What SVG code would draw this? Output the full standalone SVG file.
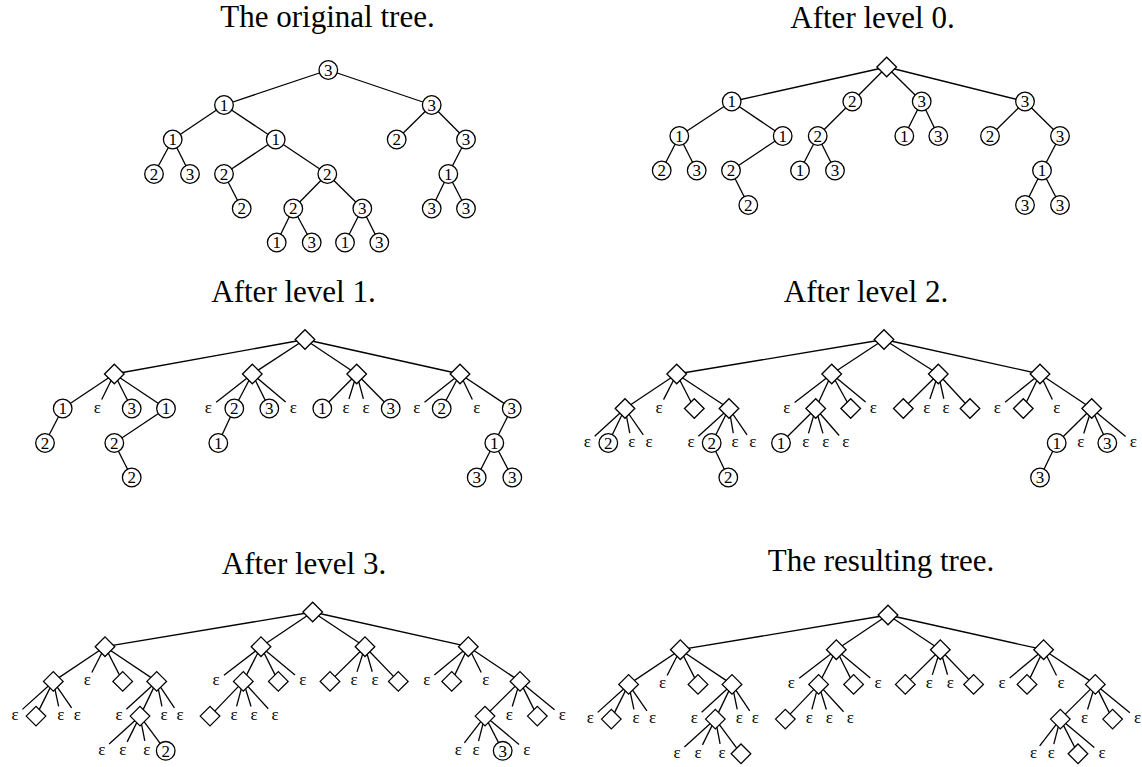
<svg xmlns="http://www.w3.org/2000/svg" xmlns:xlink="http://www.w3.org/1999/xlink" width="1142" height="767" viewBox="0 0 1142 767">
<defs>
<style>
.e line{stroke:#000;stroke-width:1.3;fill:none}
.c{fill:#fff;stroke:#000;stroke-width:1.3}
.d{fill:#fff;stroke:#000;stroke-width:1.3}
text{font-family:"Liberation Serif","Times New Roman",serif;fill:#000}
.t{font-size:31px;text-anchor:middle}
.l{font-size:17px;text-anchor:middle}
</style>
<path id="dm" d="M-9.8 0L0-9.8L9.8 0L0 9.8Z"/>
</defs>
<rect width="1142" height="767" fill="#fff"/>

<!-- Panel 1 -->
<text class="t" x="327.5" y="27">The original tree.</text>
<g id="p1-edges" class="e">
<line x1="328.3" y1="70" x2="224" y2="105"/>
<line x1="328.3" y1="70" x2="431.7" y2="105"/>
<line x1="224" y1="105" x2="172.7" y2="139.5"/>
<line x1="224" y1="105" x2="275.7" y2="139.5"/>
<line x1="172.7" y1="139.5" x2="154" y2="174"/>
<line x1="172.7" y1="139.5" x2="190" y2="174"/>
<line x1="275.7" y1="139.5" x2="224" y2="174"/>
<line x1="275.7" y1="139.5" x2="327.3" y2="174"/>
<line x1="224" y1="174" x2="241.7" y2="208.5"/>
<line x1="327.3" y1="174" x2="293.3" y2="208.5"/>
<line x1="327.3" y1="174" x2="362.3" y2="208.5"/>
<line x1="293.3" y1="208.5" x2="276.7" y2="242.5"/>
<line x1="293.3" y1="208.5" x2="311.7" y2="242.5"/>
<line x1="362.3" y1="208.5" x2="345" y2="242.5"/>
<line x1="362.3" y1="208.5" x2="379.3" y2="242.5"/>
<line x1="431.7" y1="105" x2="396.7" y2="139.5"/>
<line x1="431.7" y1="105" x2="466" y2="139.5"/>
<line x1="466" y1="139.5" x2="448.3" y2="174"/>
<line x1="448.3" y1="174" x2="431.7" y2="208.5"/>
<line x1="448.3" y1="174" x2="466" y2="208.5"/>
</g>
<g id="p1-n0"><circle class="c" cx="328.3" cy="70" r="9.3"/><text class="l" x="328.3" y="75.8">3</text></g>
<g id="p1-n1"><circle class="c" cx="224" cy="105" r="9.3"/><text class="l" x="224" y="110.8">1</text></g>
<g id="p1-n2"><circle class="c" cx="431.7" cy="105" r="9.3"/><text class="l" x="431.7" y="110.8">3</text></g>
<g id="p1-n3"><circle class="c" cx="172.7" cy="139.5" r="9.3"/><text class="l" x="172.7" y="145.3">1</text></g>
<g id="p1-n4"><circle class="c" cx="275.7" cy="139.5" r="9.3"/><text class="l" x="275.7" y="145.3">1</text></g>
<g id="p1-n5"><circle class="c" cx="396.7" cy="139.5" r="9.3"/><text class="l" x="396.7" y="145.3">2</text></g>
<g id="p1-n6"><circle class="c" cx="466" cy="139.5" r="9.3"/><text class="l" x="466" y="145.3">3</text></g>
<g id="p1-n7"><circle class="c" cx="154" cy="174" r="9.3"/><text class="l" x="154" y="179.8">2</text></g>
<g id="p1-n8"><circle class="c" cx="190" cy="174" r="9.3"/><text class="l" x="190" y="179.8">3</text></g>
<g id="p1-n9"><circle class="c" cx="224" cy="174" r="9.3"/><text class="l" x="224" y="179.8">2</text></g>
<g id="p1-n10"><circle class="c" cx="327.3" cy="174" r="9.3"/><text class="l" x="327.3" y="179.8">2</text></g>
<g id="p1-n11"><circle class="c" cx="448.3" cy="174" r="9.3"/><text class="l" x="448.3" y="179.8">1</text></g>
<g id="p1-n12"><circle class="c" cx="241.7" cy="208.5" r="9.3"/><text class="l" x="241.7" y="214.3">2</text></g>
<g id="p1-n13"><circle class="c" cx="293.3" cy="208.5" r="9.3"/><text class="l" x="293.3" y="214.3">2</text></g>
<g id="p1-n14"><circle class="c" cx="362.3" cy="208.5" r="9.3"/><text class="l" x="362.3" y="214.3">3</text></g>
<g id="p1-n15"><circle class="c" cx="431.7" cy="208.5" r="9.3"/><text class="l" x="431.7" y="214.3">3</text></g>
<g id="p1-n16"><circle class="c" cx="466" cy="208.5" r="9.3"/><text class="l" x="466" y="214.3">3</text></g>
<g id="p1-n17"><circle class="c" cx="276.7" cy="242.5" r="9.3"/><text class="l" x="276.7" y="248.3">1</text></g>
<g id="p1-n18"><circle class="c" cx="311.7" cy="242.5" r="9.3"/><text class="l" x="311.7" y="248.3">3</text></g>
<g id="p1-n19"><circle class="c" cx="345" cy="242.5" r="9.3"/><text class="l" x="345" y="248.3">1</text></g>
<g id="p1-n20"><circle class="c" cx="379.3" cy="242.5" r="9.3"/><text class="l" x="379.3" y="248.3">3</text></g>

<!-- Panel 2 -->
<text class="t" x="872.5" y="28">After level 0.</text>
<g id="p2-edges" class="e">
<line x1="886.7" y1="67" x2="731.7" y2="101.5"/>
<line x1="886.7" y1="67" x2="852.3" y2="101.5"/>
<line x1="886.7" y1="67" x2="921.7" y2="101.5"/>
<line x1="886.7" y1="67" x2="1025" y2="101.5"/>
<line x1="731.7" y1="101.5" x2="679.3" y2="136"/>
<line x1="731.7" y1="101.5" x2="782.7" y2="136"/>
<line x1="679.3" y1="136" x2="661.7" y2="170.5"/>
<line x1="679.3" y1="136" x2="696.7" y2="170.5"/>
<line x1="782.7" y1="136" x2="731" y2="170.5"/>
<line x1="731" y1="170.5" x2="748.3" y2="205"/>
<line x1="852.3" y1="101.5" x2="817.7" y2="136"/>
<line x1="817.7" y1="136" x2="800" y2="170.5"/>
<line x1="817.7" y1="136" x2="835" y2="170.5"/>
<line x1="921.7" y1="101.5" x2="904.3" y2="136"/>
<line x1="921.7" y1="101.5" x2="938.3" y2="136"/>
<line x1="1025" y1="101.5" x2="990" y2="136"/>
<line x1="1025" y1="101.5" x2="1060" y2="136"/>
<line x1="1060" y1="136" x2="1042" y2="170.5"/>
<line x1="1042" y1="170.5" x2="1025" y2="205"/>
<line x1="1042" y1="170.5" x2="1060" y2="205"/>
</g>
<g id="p2-n0"><use href="#dm" class="d" x="886.7" y="67"/></g>
<g id="p2-n1"><circle class="c" cx="731.7" cy="101.5" r="9.3"/><text class="l" x="731.7" y="107.3">1</text></g>
<g id="p2-n2"><circle class="c" cx="852.3" cy="101.5" r="9.3"/><text class="l" x="852.3" y="107.3">2</text></g>
<g id="p2-n3"><circle class="c" cx="921.7" cy="101.5" r="9.3"/><text class="l" x="921.7" y="107.3">3</text></g>
<g id="p2-n4"><circle class="c" cx="1025" cy="101.5" r="9.3"/><text class="l" x="1025" y="107.3">3</text></g>
<g id="p2-n5"><circle class="c" cx="679.3" cy="136" r="9.3"/><text class="l" x="679.3" y="141.8">1</text></g>
<g id="p2-n6"><circle class="c" cx="782.7" cy="136" r="9.3"/><text class="l" x="782.7" y="141.8">1</text></g>
<g id="p2-n7"><circle class="c" cx="817.7" cy="136" r="9.3"/><text class="l" x="817.7" y="141.8">2</text></g>
<g id="p2-n8"><circle class="c" cx="904.3" cy="136" r="9.3"/><text class="l" x="904.3" y="141.8">1</text></g>
<g id="p2-n9"><circle class="c" cx="938.3" cy="136" r="9.3"/><text class="l" x="938.3" y="141.8">3</text></g>
<g id="p2-n10"><circle class="c" cx="990" cy="136" r="9.3"/><text class="l" x="990" y="141.8">2</text></g>
<g id="p2-n11"><circle class="c" cx="1060" cy="136" r="9.3"/><text class="l" x="1060" y="141.8">3</text></g>
<g id="p2-n12"><circle class="c" cx="661.7" cy="170.5" r="9.3"/><text class="l" x="661.7" y="176.3">2</text></g>
<g id="p2-n13"><circle class="c" cx="696.7" cy="170.5" r="9.3"/><text class="l" x="696.7" y="176.3">3</text></g>
<g id="p2-n14"><circle class="c" cx="731" cy="170.5" r="9.3"/><text class="l" x="731" y="176.3">2</text></g>
<g id="p2-n15"><circle class="c" cx="800" cy="170.5" r="9.3"/><text class="l" x="800" y="176.3">1</text></g>
<g id="p2-n16"><circle class="c" cx="835" cy="170.5" r="9.3"/><text class="l" x="835" y="176.3">3</text></g>
<g id="p2-n17"><circle class="c" cx="1042" cy="170.5" r="9.3"/><text class="l" x="1042" y="176.3">1</text></g>
<g id="p2-n18"><circle class="c" cx="748.3" cy="205" r="9.3"/><text class="l" x="748.3" y="210.8">2</text></g>
<g id="p2-n19"><circle class="c" cx="1025" cy="205" r="9.3"/><text class="l" x="1025" y="210.8">3</text></g>
<g id="p2-n20"><circle class="c" cx="1060" cy="205" r="9.3"/><text class="l" x="1060" y="210.8">3</text></g>

<!-- Panel 3 -->
<text class="t" x="293.5" y="301.7">After level 1.</text>
<g id="p3-edges" class="e">
<line x1="305" y1="339.5" x2="114.3" y2="374"/>
<line x1="305" y1="339.5" x2="252.3" y2="374"/>
<line x1="305" y1="339.5" x2="356.7" y2="374"/>
<line x1="305" y1="339.5" x2="460" y2="374"/>
<line x1="114.3" y1="374" x2="62.7" y2="408.5"/>
<line x1="114.3" y1="374" x2="101.72" y2="399.53"/>
<line x1="114.3" y1="374" x2="131.7" y2="408.5"/>
<line x1="114.3" y1="374" x2="166" y2="408.5"/>
<line x1="62.7" y1="408.5" x2="45" y2="443"/>
<line x1="166" y1="408.5" x2="114.3" y2="443"/>
<line x1="114.3" y1="443" x2="131.7" y2="477.5"/>
<line x1="252.3" y1="374" x2="216.17" y2="402.33"/>
<line x1="252.3" y1="374" x2="234.3" y2="408.5"/>
<line x1="252.3" y1="374" x2="269.3" y2="408.5"/>
<line x1="252.3" y1="374" x2="285.65" y2="402.06"/>
<line x1="234.3" y1="408.5" x2="218.3" y2="443"/>
<line x1="356.7" y1="374" x2="322.3" y2="408.5"/>
<line x1="356.7" y1="374" x2="348.96" y2="398.95"/>
<line x1="356.7" y1="374" x2="363.4" y2="398.84"/>
<line x1="356.7" y1="374" x2="390.7" y2="408.5"/>
<line x1="460" y1="374" x2="424.52" y2="402.27"/>
<line x1="460" y1="374" x2="441.7" y2="408.5"/>
<line x1="460" y1="374" x2="472.34" y2="399.5"/>
<line x1="460" y1="374" x2="511.7" y2="408.5"/>
<line x1="511.7" y1="408.5" x2="494.3" y2="443"/>
<line x1="494.3" y1="443" x2="476.7" y2="477.5"/>
<line x1="494.3" y1="443" x2="512.3" y2="477.5"/>
</g>
<g id="p3-n0"><use href="#dm" class="d" x="305" y="339.5"/></g>
<g id="p3-n1"><use href="#dm" class="d" x="114.3" y="374"/></g>
<g id="p3-n2"><use href="#dm" class="d" x="252.3" y="374"/></g>
<g id="p3-n3"><use href="#dm" class="d" x="356.7" y="374"/></g>
<g id="p3-n4"><use href="#dm" class="d" x="460" y="374"/></g>
<g id="p3-n5"><circle class="c" cx="62.7" cy="408.5" r="9.3"/><text class="l" x="62.7" y="414.3">1</text></g>
<g id="p3-n6"><text class="l" x="97.3" y="412.5">ε</text></g>
<g id="p3-n7"><circle class="c" cx="131.7" cy="408.5" r="9.3"/><text class="l" x="131.7" y="414.3">3</text></g>
<g id="p3-n8"><circle class="c" cx="166" cy="408.5" r="9.3"/><text class="l" x="166" y="414.3">1</text></g>
<g id="p3-n9"><text class="l" x="208.3" y="412.5">ε</text></g>
<g id="p3-n10"><circle class="c" cx="234.3" cy="408.5" r="9.3"/><text class="l" x="234.3" y="414.3">2</text></g>
<g id="p3-n11"><circle class="c" cx="269.3" cy="408.5" r="9.3"/><text class="l" x="269.3" y="414.3">3</text></g>
<g id="p3-n12"><text class="l" x="293.3" y="412.5">ε</text></g>
<g id="p3-n13"><circle class="c" cx="322.3" cy="408.5" r="9.3"/><text class="l" x="322.3" y="414.3">1</text></g>
<g id="p3-n14"><text class="l" x="346" y="412.5">ε</text></g>
<g id="p3-n15"><text class="l" x="366" y="412.5">ε</text></g>
<g id="p3-n16"><circle class="c" cx="390.7" cy="408.5" r="9.3"/><text class="l" x="390.7" y="414.3">3</text></g>
<g id="p3-n17"><text class="l" x="416.7" y="412.5">ε</text></g>
<g id="p3-n18"><circle class="c" cx="441.7" cy="408.5" r="9.3"/><text class="l" x="441.7" y="414.3">2</text></g>
<g id="p3-n19"><text class="l" x="476.7" y="412.5">ε</text></g>
<g id="p3-n20"><circle class="c" cx="511.7" cy="408.5" r="9.3"/><text class="l" x="511.7" y="414.3">3</text></g>
<g id="p3-n21"><circle class="c" cx="45" cy="443" r="9.3"/><text class="l" x="45" y="448.8">2</text></g>
<g id="p3-n22"><circle class="c" cx="114.3" cy="443" r="9.3"/><text class="l" x="114.3" y="448.8">2</text></g>
<g id="p3-n23"><circle class="c" cx="218.3" cy="443" r="9.3"/><text class="l" x="218.3" y="448.8">1</text></g>
<g id="p3-n24"><circle class="c" cx="494.3" cy="443" r="9.3"/><text class="l" x="494.3" y="448.8">1</text></g>
<g id="p3-n25"><circle class="c" cx="131.7" cy="477.5" r="9.3"/><text class="l" x="131.7" y="483.3">2</text></g>
<g id="p3-n26"><circle class="c" cx="476.7" cy="477.5" r="9.3"/><text class="l" x="476.7" y="483.3">3</text></g>
<g id="p3-n27"><circle class="c" cx="512.3" cy="477.5" r="9.3"/><text class="l" x="512.3" y="483.3">3</text></g>

<!-- Panel 4 -->
<text class="t" x="866" y="301.7">After level 2.</text>
<g id="p4-edges" class="e">
<line x1="884" y1="339.5" x2="676.7" y2="374"/>
<line x1="884" y1="339.5" x2="831.7" y2="374"/>
<line x1="884" y1="339.5" x2="938.3" y2="374"/>
<line x1="884" y1="339.5" x2="1040" y2="374"/>
<line x1="676.7" y1="374" x2="625" y2="408.5"/>
<line x1="676.7" y1="374" x2="663.56" y2="399.6"/>
<line x1="676.7" y1="374" x2="694.3" y2="408.5"/>
<line x1="676.7" y1="374" x2="729" y2="408.5"/>
<line x1="625" y1="408.5" x2="594.68" y2="436.25"/>
<line x1="625" y1="408.5" x2="608.3" y2="443"/>
<line x1="625" y1="408.5" x2="629.79" y2="433.18"/>
<line x1="625" y1="408.5" x2="643.29" y2="434.79"/>
<line x1="729" y1="408.5" x2="698.4" y2="436.28"/>
<line x1="729" y1="408.5" x2="711.7" y2="443"/>
<line x1="729" y1="408.5" x2="733.29" y2="433.15"/>
<line x1="729" y1="408.5" x2="747.04" y2="434.76"/>
<line x1="711.7" y1="443" x2="728.3" y2="477.5"/>
<line x1="831.7" y1="374" x2="794.64" y2="402.42"/>
<line x1="831.7" y1="374" x2="815.7" y2="408.5"/>
<line x1="831.7" y1="374" x2="850.7" y2="408.5"/>
<line x1="831.7" y1="374" x2="865.6" y2="402.12"/>
<line x1="815.7" y1="408.5" x2="781" y2="443"/>
<line x1="815.7" y1="408.5" x2="808.48" y2="433.4"/>
<line x1="815.7" y1="408.5" x2="822.92" y2="433.4"/>
<line x1="815.7" y1="408.5" x2="839.14" y2="435.45"/>
<line x1="938.3" y1="374" x2="903.3" y2="408.5"/>
<line x1="938.3" y1="374" x2="929.89" y2="399.02"/>
<line x1="938.3" y1="374" x2="943.82" y2="398.74"/>
<line x1="938.3" y1="374" x2="970" y2="408.5"/>
<line x1="1040" y1="374" x2="1005.08" y2="402.22"/>
<line x1="1040" y1="374" x2="1023.3" y2="408.5"/>
<line x1="1040" y1="374" x2="1052.34" y2="399.5"/>
<line x1="1040" y1="374" x2="1091.7" y2="408.5"/>
<line x1="1091.7" y1="408.5" x2="1056.7" y2="443"/>
<line x1="1091.7" y1="408.5" x2="1083.74" y2="433.47"/>
<line x1="1091.7" y1="408.5" x2="1107.3" y2="443"/>
<line x1="1091.7" y1="408.5" x2="1125.6" y2="436.62"/>
<line x1="1056.7" y1="443" x2="1040" y2="477.5"/>
</g>
<g id="p4-n0"><use href="#dm" class="d" x="884" y="339.5"/></g>
<g id="p4-n1"><use href="#dm" class="d" x="676.7" y="374"/></g>
<g id="p4-n2"><use href="#dm" class="d" x="831.7" y="374"/></g>
<g id="p4-n3"><use href="#dm" class="d" x="938.3" y="374"/></g>
<g id="p4-n4"><use href="#dm" class="d" x="1040" y="374"/></g>
<g id="p4-n5"><use href="#dm" class="d" x="625" y="408.5"/></g>
<g id="p4-n6"><text class="l" x="659" y="412.5">ε</text></g>
<g id="p4-n7"><use href="#dm" class="d" x="694.3" y="408.5"/></g>
<g id="p4-n8"><use href="#dm" class="d" x="729" y="408.5"/></g>
<g id="p4-n9"><text class="l" x="786.7" y="412.5">ε</text></g>
<g id="p4-n10"><use href="#dm" class="d" x="815.7" y="408.5"/></g>
<g id="p4-n11"><use href="#dm" class="d" x="850.7" y="408.5"/></g>
<g id="p4-n12"><text class="l" x="873.3" y="412.5">ε</text></g>
<g id="p4-n13"><use href="#dm" class="d" x="903.3" y="408.5"/></g>
<g id="p4-n14"><text class="l" x="926.7" y="412.5">ε</text></g>
<g id="p4-n15"><text class="l" x="946" y="412.5">ε</text></g>
<g id="p4-n16"><use href="#dm" class="d" x="970" y="408.5"/></g>
<g id="p4-n17"><text class="l" x="997.3" y="412.5">ε</text></g>
<g id="p4-n18"><use href="#dm" class="d" x="1023.3" y="408.5"/></g>
<g id="p4-n19"><text class="l" x="1056.7" y="412.5">ε</text></g>
<g id="p4-n20"><use href="#dm" class="d" x="1091.7" y="408.5"/></g>
<g id="p4-n21"><text class="l" x="587.3" y="447">ε</text></g>
<g id="p4-n22"><circle class="c" cx="608.3" cy="443" r="9.3"/><text class="l" x="608.3" y="448.8">2</text></g>
<g id="p4-n23"><text class="l" x="631.7" y="447">ε</text></g>
<g id="p4-n24"><text class="l" x="649" y="447">ε</text></g>
<g id="p4-n25"><text class="l" x="691" y="447">ε</text></g>
<g id="p4-n26"><circle class="c" cx="711.7" cy="443" r="9.3"/><text class="l" x="711.7" y="448.8">2</text></g>
<g id="p4-n27"><text class="l" x="735" y="447">ε</text></g>
<g id="p4-n28"><text class="l" x="752.7" y="447">ε</text></g>
<g id="p4-n29"><circle class="c" cx="781" cy="443" r="9.3"/><text class="l" x="781" y="448.8">1</text></g>
<g id="p4-n30"><text class="l" x="805.7" y="447">ε</text></g>
<g id="p4-n31"><text class="l" x="825.7" y="447">ε</text></g>
<g id="p4-n32"><text class="l" x="845.7" y="447">ε</text></g>
<g id="p4-n33"><circle class="c" cx="1056.7" cy="443" r="9.3"/><text class="l" x="1056.7" y="448.8">1</text></g>
<g id="p4-n34"><text class="l" x="1080.7" y="447">ε</text></g>
<g id="p4-n35"><circle class="c" cx="1107.3" cy="443" r="9.3"/><text class="l" x="1107.3" y="448.8">3</text></g>
<g id="p4-n36"><text class="l" x="1133.3" y="447">ε</text></g>
<g id="p4-n37"><circle class="c" cx="728.3" cy="477.5" r="9.3"/><text class="l" x="728.3" y="483.3">2</text></g>
<g id="p4-n38"><circle class="c" cx="1040" cy="477.5" r="9.3"/><text class="l" x="1040" y="483.3">3</text></g>

<!-- Panel 5 -->
<text class="t" x="304" y="574.3">After level 3.</text>
<g id="p5-edges" class="e">
<line x1="312.7" y1="612" x2="105" y2="646.7"/>
<line x1="312.7" y1="612" x2="261" y2="646.7"/>
<line x1="312.7" y1="612" x2="365" y2="646.7"/>
<line x1="312.7" y1="612" x2="468.3" y2="646.7"/>
<line x1="105" y1="646.7" x2="53.3" y2="681.4"/>
<line x1="105" y1="646.7" x2="91.84" y2="672.49"/>
<line x1="105" y1="646.7" x2="122.7" y2="681.4"/>
<line x1="105" y1="646.7" x2="156.7" y2="681.4"/>
<line x1="53.3" y1="681.4" x2="22.41" y2="709.39"/>
<line x1="53.3" y1="681.4" x2="36" y2="716.1"/>
<line x1="53.3" y1="681.4" x2="58.61" y2="706.32"/>
<line x1="53.3" y1="681.4" x2="71.61" y2="707.88"/>
<line x1="156.7" y1="681.4" x2="126.36" y2="709.33"/>
<line x1="156.7" y1="681.4" x2="140" y2="716.1"/>
<line x1="156.7" y1="681.4" x2="161.94" y2="706.31"/>
<line x1="156.7" y1="681.4" x2="174.43" y2="707.8"/>
<line x1="140" y1="716.1" x2="109.11" y2="744.09"/>
<line x1="140" y1="716.1" x2="127.16" y2="741.85"/>
<line x1="140" y1="716.1" x2="144.8" y2="740.98"/>
<line x1="140" y1="716.1" x2="165.7" y2="750.8"/>
<line x1="261" y1="646.7" x2="223.92" y2="675.29"/>
<line x1="261" y1="646.7" x2="243.3" y2="681.4"/>
<line x1="261" y1="646.7" x2="278.3" y2="681.4"/>
<line x1="261" y1="646.7" x2="295.01" y2="675"/>
<line x1="243.3" y1="681.4" x2="210" y2="716.1"/>
<line x1="243.3" y1="681.4" x2="236.59" y2="706.44"/>
<line x1="243.3" y1="681.4" x2="251.05" y2="706.54"/>
<line x1="243.3" y1="681.4" x2="268.26" y2="708.72"/>
<line x1="365" y1="646.7" x2="330" y2="681.4"/>
<line x1="365" y1="646.7" x2="357.02" y2="671.87"/>
<line x1="365" y1="646.7" x2="372.23" y2="671.79"/>
<line x1="365" y1="646.7" x2="398.3" y2="681.4"/>
<line x1="468.3" y1="646.7" x2="434.38" y2="674.99"/>
<line x1="468.3" y1="646.7" x2="451.7" y2="681.4"/>
<line x1="468.3" y1="646.7" x2="481.22" y2="672.46"/>
<line x1="468.3" y1="646.7" x2="520" y2="681.4"/>
<line x1="520" y1="681.4" x2="485" y2="716.1"/>
<line x1="520" y1="681.4" x2="512.25" y2="706.54"/>
<line x1="520" y1="681.4" x2="537.3" y2="716.1"/>
<line x1="520" y1="681.4" x2="554.57" y2="709.76"/>
<line x1="485" y1="716.1" x2="464.4" y2="742.87"/>
<line x1="485" y1="716.1" x2="478.51" y2="741.12"/>
<line x1="485" y1="716.1" x2="502.7" y2="750.8"/>
<line x1="485" y1="716.1" x2="519.01" y2="744.4"/>
</g>
<g id="p5-n0"><use href="#dm" class="d" x="312.7" y="612"/></g>
<g id="p5-n1"><use href="#dm" class="d" x="105" y="646.7"/></g>
<g id="p5-n2"><use href="#dm" class="d" x="261" y="646.7"/></g>
<g id="p5-n3"><use href="#dm" class="d" x="365" y="646.7"/></g>
<g id="p5-n4"><use href="#dm" class="d" x="468.3" y="646.7"/></g>
<g id="p5-n5"><use href="#dm" class="d" x="53.3" y="681.4"/></g>
<g id="p5-n6"><text class="l" x="87.3" y="685.4">ε</text></g>
<g id="p5-n7"><use href="#dm" class="d" x="122.7" y="681.4"/></g>
<g id="p5-n8"><use href="#dm" class="d" x="156.7" y="681.4"/></g>
<g id="p5-n9"><text class="l" x="216" y="685.4">ε</text></g>
<g id="p5-n10"><use href="#dm" class="d" x="243.3" y="681.4"/></g>
<g id="p5-n11"><use href="#dm" class="d" x="278.3" y="681.4"/></g>
<g id="p5-n12"><text class="l" x="302.7" y="685.4">ε</text></g>
<g id="p5-n13"><use href="#dm" class="d" x="330" y="681.4"/></g>
<g id="p5-n14"><text class="l" x="354" y="685.4">ε</text></g>
<g id="p5-n15"><text class="l" x="375" y="685.4">ε</text></g>
<g id="p5-n16"><use href="#dm" class="d" x="398.3" y="681.4"/></g>
<g id="p5-n17"><text class="l" x="426.7" y="685.4">ε</text></g>
<g id="p5-n18"><use href="#dm" class="d" x="451.7" y="681.4"/></g>
<g id="p5-n19"><text class="l" x="485.7" y="685.4">ε</text></g>
<g id="p5-n20"><use href="#dm" class="d" x="520" y="681.4"/></g>
<g id="p5-n21"><text class="l" x="15" y="720.1">ε</text></g>
<g id="p5-n22"><use href="#dm" class="d" x="36" y="716.1"/></g>
<g id="p5-n23"><text class="l" x="60.7" y="720.1">ε</text></g>
<g id="p5-n24"><text class="l" x="77.3" y="720.1">ε</text></g>
<g id="p5-n25"><text class="l" x="119" y="720.1">ε</text></g>
<g id="p5-n26"><use href="#dm" class="d" x="140" y="716.1"/></g>
<g id="p5-n27"><text class="l" x="164" y="720.1">ε</text></g>
<g id="p5-n28"><text class="l" x="180" y="720.1">ε</text></g>
<g id="p5-n29"><use href="#dm" class="d" x="210" y="716.1"/></g>
<g id="p5-n30"><text class="l" x="234" y="720.1">ε</text></g>
<g id="p5-n31"><text class="l" x="254" y="720.1">ε</text></g>
<g id="p5-n32"><text class="l" x="275" y="720.1">ε</text></g>
<g id="p5-n33"><use href="#dm" class="d" x="485" y="716.1"/></g>
<g id="p5-n34"><text class="l" x="509.3" y="720.1">ε</text></g>
<g id="p5-n35"><use href="#dm" class="d" x="537.3" y="716.1"/></g>
<g id="p5-n36"><text class="l" x="562.3" y="720.1">ε</text></g>
<g id="p5-n37"><text class="l" x="101.7" y="754.8">ε</text></g>
<g id="p5-n38"><text class="l" x="122.7" y="754.8">ε</text></g>
<g id="p5-n39"><text class="l" x="146.7" y="754.8">ε</text></g>
<g id="p5-n40"><circle class="c" cx="165.7" cy="750.8" r="9.3"/><text class="l" x="165.7" y="756.6">2</text></g>
<g id="p5-n41"><text class="l" x="458.3" y="754.8">ε</text></g>
<g id="p5-n42"><text class="l" x="476" y="754.8">ε</text></g>
<g id="p5-n43"><circle class="c" cx="502.7" cy="750.8" r="9.3"/><text class="l" x="502.7" y="756.6">3</text></g>
<g id="p5-n44"><text class="l" x="526.7" y="754.8">ε</text></g>

<!-- Panel 6 -->
<text class="t" x="881" y="571">The resulting tree.</text>
<g transform="translate(575.3 3)">
<g id="p6-edges" class="e">
<line x1="312.7" y1="612" x2="105" y2="646.7"/>
<line x1="312.7" y1="612" x2="261" y2="646.7"/>
<line x1="312.7" y1="612" x2="365" y2="646.7"/>
<line x1="312.7" y1="612" x2="468.3" y2="646.7"/>
<line x1="105" y1="646.7" x2="53.3" y2="681.4"/>
<line x1="105" y1="646.7" x2="91.84" y2="672.49"/>
<line x1="105" y1="646.7" x2="122.7" y2="681.4"/>
<line x1="105" y1="646.7" x2="156.7" y2="681.4"/>
<line x1="53.3" y1="681.4" x2="22.41" y2="709.39"/>
<line x1="53.3" y1="681.4" x2="36" y2="716.1"/>
<line x1="53.3" y1="681.4" x2="58.61" y2="706.32"/>
<line x1="53.3" y1="681.4" x2="71.61" y2="707.88"/>
<line x1="156.7" y1="681.4" x2="126.36" y2="709.33"/>
<line x1="156.7" y1="681.4" x2="140" y2="716.1"/>
<line x1="156.7" y1="681.4" x2="161.94" y2="706.31"/>
<line x1="156.7" y1="681.4" x2="174.43" y2="707.8"/>
<line x1="140" y1="716.1" x2="109.11" y2="744.09"/>
<line x1="140" y1="716.1" x2="127.16" y2="741.85"/>
<line x1="140" y1="716.1" x2="144.8" y2="740.98"/>
<line x1="140" y1="716.1" x2="165.7" y2="750.8"/>
<line x1="261" y1="646.7" x2="223.92" y2="675.29"/>
<line x1="261" y1="646.7" x2="243.3" y2="681.4"/>
<line x1="261" y1="646.7" x2="278.3" y2="681.4"/>
<line x1="261" y1="646.7" x2="295.01" y2="675"/>
<line x1="243.3" y1="681.4" x2="210" y2="716.1"/>
<line x1="243.3" y1="681.4" x2="236.59" y2="706.44"/>
<line x1="243.3" y1="681.4" x2="251.05" y2="706.54"/>
<line x1="243.3" y1="681.4" x2="268.26" y2="708.72"/>
<line x1="365" y1="646.7" x2="330" y2="681.4"/>
<line x1="365" y1="646.7" x2="357.02" y2="671.87"/>
<line x1="365" y1="646.7" x2="372.23" y2="671.79"/>
<line x1="365" y1="646.7" x2="398.3" y2="681.4"/>
<line x1="468.3" y1="646.7" x2="434.38" y2="674.99"/>
<line x1="468.3" y1="646.7" x2="451.7" y2="681.4"/>
<line x1="468.3" y1="646.7" x2="481.22" y2="672.46"/>
<line x1="468.3" y1="646.7" x2="520" y2="681.4"/>
<line x1="520" y1="681.4" x2="485" y2="716.1"/>
<line x1="520" y1="681.4" x2="512.25" y2="706.54"/>
<line x1="520" y1="681.4" x2="537.3" y2="716.1"/>
<line x1="520" y1="681.4" x2="554.57" y2="709.76"/>
<line x1="485" y1="716.1" x2="464.4" y2="742.87"/>
<line x1="485" y1="716.1" x2="478.51" y2="741.12"/>
<line x1="485" y1="716.1" x2="502.7" y2="750.8"/>
<line x1="485" y1="716.1" x2="519.01" y2="744.4"/>
</g>
<g id="p6-n0"><use href="#dm" class="d" x="312.7" y="612"/></g>
<g id="p6-n1"><use href="#dm" class="d" x="105" y="646.7"/></g>
<g id="p6-n2"><use href="#dm" class="d" x="261" y="646.7"/></g>
<g id="p6-n3"><use href="#dm" class="d" x="365" y="646.7"/></g>
<g id="p6-n4"><use href="#dm" class="d" x="468.3" y="646.7"/></g>
<g id="p6-n5"><use href="#dm" class="d" x="53.3" y="681.4"/></g>
<g id="p6-n6"><text class="l" x="87.3" y="685.4">ε</text></g>
<g id="p6-n7"><use href="#dm" class="d" x="122.7" y="681.4"/></g>
<g id="p6-n8"><use href="#dm" class="d" x="156.7" y="681.4"/></g>
<g id="p6-n9"><text class="l" x="216" y="685.4">ε</text></g>
<g id="p6-n10"><use href="#dm" class="d" x="243.3" y="681.4"/></g>
<g id="p6-n11"><use href="#dm" class="d" x="278.3" y="681.4"/></g>
<g id="p6-n12"><text class="l" x="302.7" y="685.4">ε</text></g>
<g id="p6-n13"><use href="#dm" class="d" x="330" y="681.4"/></g>
<g id="p6-n14"><text class="l" x="354" y="685.4">ε</text></g>
<g id="p6-n15"><text class="l" x="375" y="685.4">ε</text></g>
<g id="p6-n16"><use href="#dm" class="d" x="398.3" y="681.4"/></g>
<g id="p6-n17"><text class="l" x="426.7" y="685.4">ε</text></g>
<g id="p6-n18"><use href="#dm" class="d" x="451.7" y="681.4"/></g>
<g id="p6-n19"><text class="l" x="485.7" y="685.4">ε</text></g>
<g id="p6-n20"><use href="#dm" class="d" x="520" y="681.4"/></g>
<g id="p6-n21"><text class="l" x="15" y="720.1">ε</text></g>
<g id="p6-n22"><use href="#dm" class="d" x="36" y="716.1"/></g>
<g id="p6-n23"><text class="l" x="60.7" y="720.1">ε</text></g>
<g id="p6-n24"><text class="l" x="77.3" y="720.1">ε</text></g>
<g id="p6-n25"><text class="l" x="119" y="720.1">ε</text></g>
<g id="p6-n26"><use href="#dm" class="d" x="140" y="716.1"/></g>
<g id="p6-n27"><text class="l" x="164" y="720.1">ε</text></g>
<g id="p6-n28"><text class="l" x="180" y="720.1">ε</text></g>
<g id="p6-n29"><use href="#dm" class="d" x="210" y="716.1"/></g>
<g id="p6-n30"><text class="l" x="234" y="720.1">ε</text></g>
<g id="p6-n31"><text class="l" x="254" y="720.1">ε</text></g>
<g id="p6-n32"><text class="l" x="275" y="720.1">ε</text></g>
<g id="p6-n33"><use href="#dm" class="d" x="485" y="716.1"/></g>
<g id="p6-n34"><text class="l" x="509.3" y="720.1">ε</text></g>
<g id="p6-n35"><use href="#dm" class="d" x="537.3" y="716.1"/></g>
<g id="p6-n36"><text class="l" x="562.3" y="720.1">ε</text></g>
<g id="p6-n37"><text class="l" x="101.7" y="754.8">ε</text></g>
<g id="p6-n38"><text class="l" x="122.7" y="754.8">ε</text></g>
<g id="p6-n39"><text class="l" x="146.7" y="754.8">ε</text></g>
<g id="p6-n40"><use href="#dm" class="d" x="165.7" y="750.8"/></g>
<g id="p6-n41"><text class="l" x="458.3" y="754.8">ε</text></g>
<g id="p6-n42"><text class="l" x="476" y="754.8">ε</text></g>
<g id="p6-n43"><use href="#dm" class="d" x="502.7" y="750.8"/></g>
<g id="p6-n44"><text class="l" x="526.7" y="754.8">ε</text></g>
</g>
</svg>
